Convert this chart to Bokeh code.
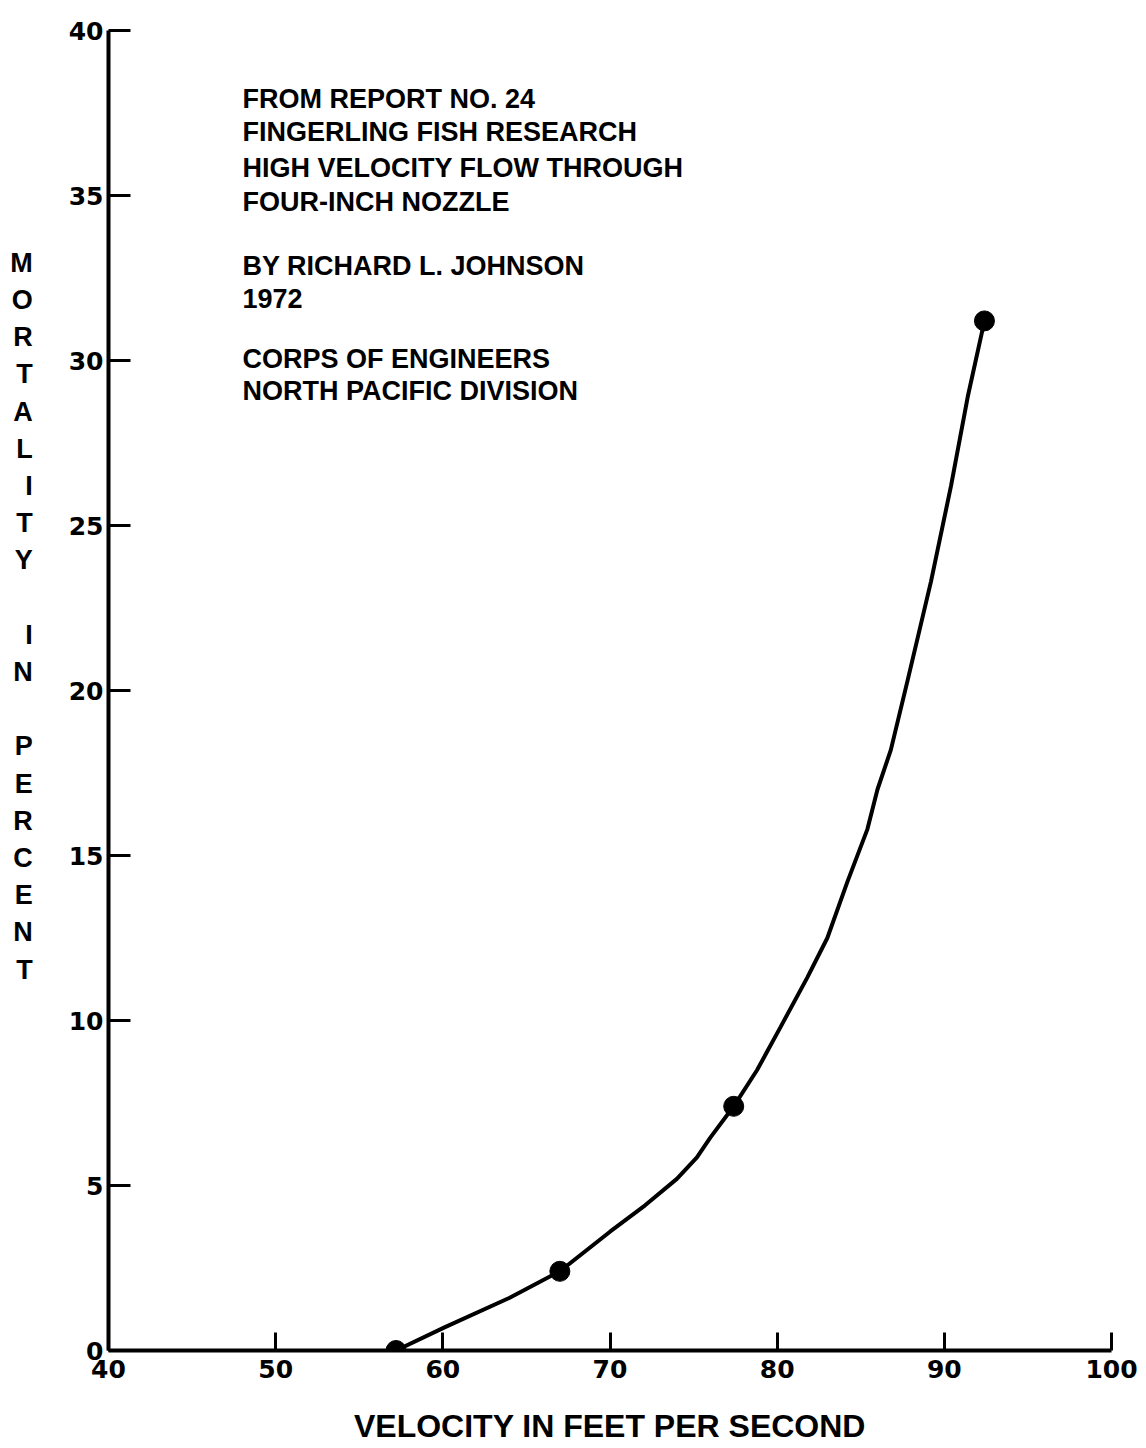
from bokeh.plotting import figure
from bokeh.models import Label, Range1d, FixedTicker
from bokeh.embed import file_html
from bokeh.resources import INLINE

# ---- data ----
velocity_curve = [57.2, 60.1, 64.0, 67.0, 70.0, 72.1, 74.0, 75.2, 76.0, 77.4, 78.8,
                  80.2, 81.8, 83.0, 84.2, 85.4, 86.0, 86.8, 87.8, 89.2, 90.4, 91.4, 92.4]
mortality_curve = [0.0, 0.7, 1.6, 2.4, 3.6, 4.4, 5.2, 5.85, 6.45, 7.4, 8.5,
                   9.8, 11.3, 12.5, 14.2, 15.8, 17.0, 18.2, 20.3, 23.3, 26.2, 28.9, 31.2]
velocity_points = [57.2, 67.0, 77.4, 92.4]
mortality_points = [0.0, 2.4, 7.4, 31.2]
x_ticks = [40, 50, 60, 70, 80, 90, 100]
y_ticks = [0, 5, 10, 15, 20, 25, 30, 35, 40]
note_lines = ["FROM REPORT NO. 24", "FINGERLING FISH RESEARCH",
              "HIGH VELOCITY FLOW THROUGH", "FOUR-INCH NOZZLE", "",
              "BY RICHARD L. JOHNSON", "1972", "",
              "CORPS OF ENGINEERS", "NORTH PACIFIC DIVISION"]
note_rows_px = [98, 131, 167, 201, None, 265, 298, None, 358, 390]
y_title_rows = ["M", "O", "R", "T", "A", "L", "I", "T", "Y", "",
                "I", "N", "",
                "P", "E", "R", "C", "E", "N", "T"]
x_title = "VELOCITY IN FEET PER SECOND"

# ---- layout ----
LEFT, RIGHT, TOP, BOTTOM = 108, 35, 30, 98
FW, FH = 1146 - LEFT - RIGHT, 1448 - TOP - BOTTOM
X0, X1, Y0, Y1 = 40, 100, 0, 40


def px_x(px):
    return X0 + (px - LEFT) * (X1 - X0) / FW


def px_y(py):
    return Y0 + (TOP + FH - py) * (Y1 - Y0) / FH


p = figure(frame_width=FW, frame_height=FH,
           x_range=Range1d(X0, X1), y_range=Range1d(Y0, Y1),
           output_backend="svg", toolbar_location=None,
           min_border_left=LEFT, min_border_right=RIGHT,
           min_border_top=TOP, min_border_bottom=BOTTOM)
p.outline_line_color = None
p.grid.visible = False
p.background_fill_color = "white"
p.border_fill_color = "white"

tick_font = "DejaVu Sans"
for ax in (p.xaxis[0], p.yaxis[0]):
    ax.axis_line_width = 4
    ax.axis_line_color = "black"
    ax.major_tick_line_width = 3
    ax.major_tick_line_color = "black"
    ax.minor_tick_line_color = None
    ax.major_tick_out = 0
    ax.major_label_text_font = tick_font
    ax.major_label_text_font_style = "bold"
    ax.major_label_text_font_size = "25px"
    ax.major_label_text_color = "black"

p.xaxis.ticker = FixedTicker(ticks=x_ticks)
p.yaxis.ticker = FixedTicker(ticks=y_ticks)
p.xaxis.major_tick_in = 18
p.yaxis.major_tick_in = 22
p.xaxis.major_label_standoff = 9
p.yaxis.major_label_standoff = 5

p.xaxis.axis_label = x_title
p.xaxis.axis_label_text_font = "Liberation Sans"
p.xaxis.axis_label_text_font_style = "bold"
p.xaxis.axis_label_text_font_size = "32px"
p.xaxis.axis_label_text_color = "black"
p.xaxis.axis_label_standoff = 27

# stacked y-axis title (extra blank rows keep it above the frame centre)
p.yaxis.axis_label = "\n".join(y_title_rows + ["", "", "", ""])
p.yaxis.axis_label_orientation = "horizontal"
p.yaxis.axis_label_text_font = "Liberation Sans"
p.yaxis.axis_label_text_font_style = "bold"
p.yaxis.axis_label_text_font_size = "27px"
p.yaxis.axis_label_text_line_height = 1.24
p.yaxis.axis_label_text_color = "black"
p.yaxis.axis_label_standoff = 33

# curve and points
p.line(velocity_curve, mortality_curve, line_width=4, line_color="black")
p.scatter(velocity_points, mortality_points, size=20, color="black")

# note block
for line, row in zip(note_lines, note_rows_px):
    if not line:
        continue
    p.add_layout(Label(x=px_x(242), y=px_y(row), text=line,
                       text_align="left", text_baseline="middle",
                       text_font="Liberation Sans", text_font_style="bold",
                       text_font_size="27px", text_color="black"))

open("out.html", "w").write(file_html(p, INLINE))
